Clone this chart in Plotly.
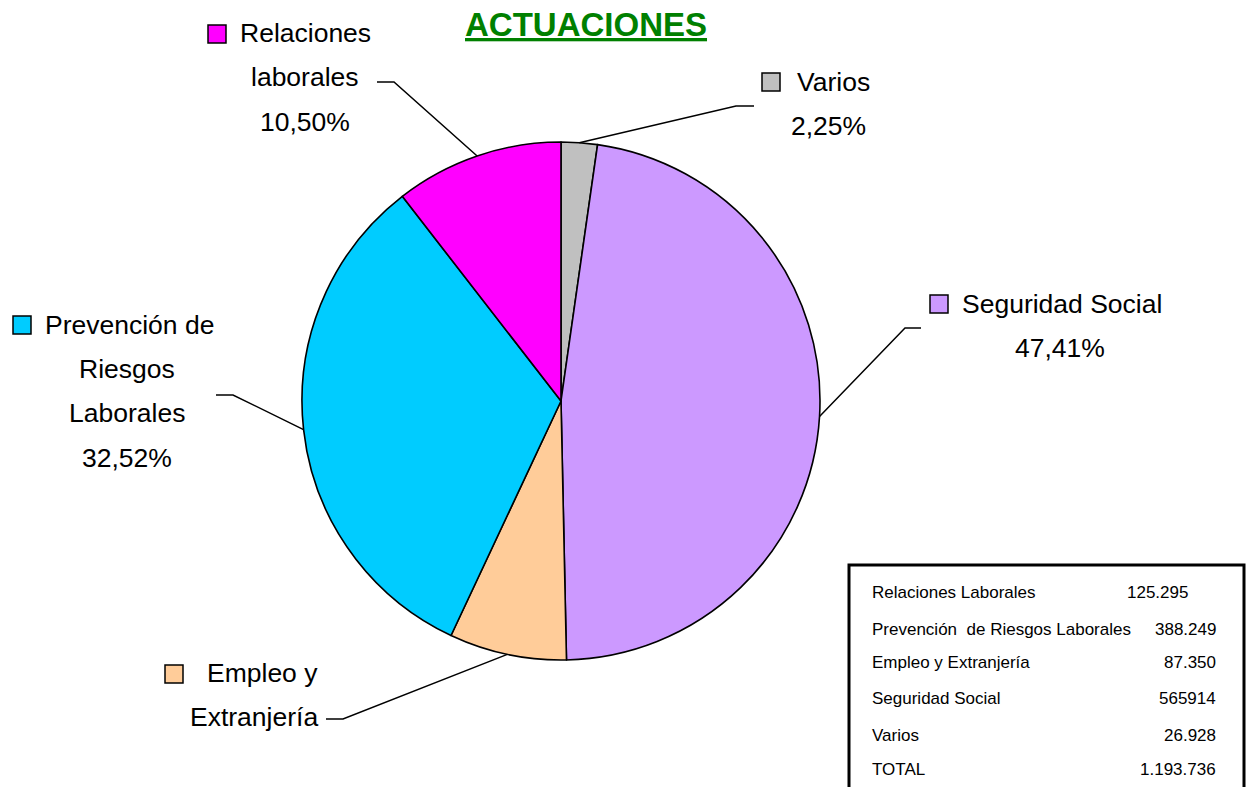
import math
import plotly.graph_objects as go

W, H = 1249, 787

title = "ACTUACIONES"
categories = ["Varios", "Seguridad Social", "Empleo y Extranjería",
              "Prevención de Riesgos Laborales", "Relaciones laborales"]
values = [26928, 565914, 87350, 388249, 125295]
colors = ["#C0C0C0", "#CC99FF", "#FFCC99", "#00CCFF", "#FF00FF"]
label_text = [
    ["Varios", "2,25%"],
    ["Seguridad Social", "47,41%"],
    ["Empleo y", "Extranjería"],
    ["Prevención de", "Riesgos", "Laborales", "32,52%"],
    ["Relaciones", "laborales", "10,50%"],
]
table_labels = ["Relaciones Laborales", "Prevención  de Riesgos Laborales",
                "Empleo y Extranjería", "Seguridad Social", "Varios", "TOTAL"]
table_values = ["125.295", "388.249", "87.350", "565914", "26.928", "1.193.736"]

# ---- layout geometry (pixels) ----
cx, cy, r = 561, 401, 259
FONT = "Arial, Liberation Sans, sans-serif"


def px(x):
    return x / W


def py(y):
    return 1 - y / H


# label placement: square box, text lines (x, y, anchor), leader elbow, leader end
label_layout = [
    dict(sq=(762, 73), lines=[(795, 82, "left"), (828, 126, "center")], elbow=(736, 106), end=(754, 106)),
    dict(sq=(930, 295), lines=[(960, 304, "left"), (1060, 348, "center")], elbow=(905, 328), end=(921, 328)),
    dict(sq=(165, 665), lines=[(205, 673, "left"), (320, 717, "right")], elbow=(343, 719), end=(326, 719)),
    dict(sq=(13, 316), lines=[(43, 325, "left"), (127, 369, "center"), (127, 413, "center"), (127, 458, "center")],
         elbow=(233, 395), end=(216, 395)),
    dict(sq=(208, 25), lines=[(238, 33, "left"), (305, 77, "center"), (305, 122, "center")],
         elbow=(394, 82), end=(377, 82)),
]

fig = go.Figure()
fig.add_trace(go.Pie(
    labels=categories, values=values, sort=False, direction="clockwise", rotation=0,
    marker=dict(colors=colors, line=dict(color="black", width=1.6)),
    textinfo="none", hoverinfo="label+value+percent", showlegend=False,
    domain=dict(x=[px(cx - r), px(cx + r)], y=[py(cy + r), py(cy - r)]),
))

shapes = []
annotations = []
total = sum(values)
cum = 0
for val, col, lines, lay in zip(values, colors, label_text, label_layout):
    mid = (cum + val / 2) / total * 2 * math.pi
    cum += val
    sx = cx + r * math.sin(mid)
    sy = cy - r * math.cos(mid)
    ex, ey = lay["elbow"]
    tx, ty = lay["end"]
    shapes.append(dict(type="path", xref="paper", yref="paper",
                       path=f"M {px(sx)},{py(sy)} L {px(ex)},{py(ey)} L {px(tx)},{py(ty)}",
                       line=dict(color="black", width=1.5)))
    qx, qy = lay["sq"]
    shapes.append(dict(type="rect", xref="paper", yref="paper",
                       x0=px(qx), x1=px(qx + 18), y0=py(qy), y1=py(qy + 18),
                       fillcolor=col, line=dict(color="black", width=1.5)))
    for txt, (lx, ly, anc) in zip(lines, lay["lines"]):
        annotations.append(dict(text=txt, x=px(lx), y=py(ly), xref="paper", yref="paper",
                                xanchor=anc, yanchor="middle", showarrow=False,
                                font=dict(family=FONT, size=26.5, color="black")))

# title
annotations.append(dict(text=f"<b><u>{title}</u></b>", x=px(586), y=py(24), xref="paper", yref="paper",
                        xanchor="center", yanchor="middle", showarrow=False,
                        font=dict(family=FONT, size=33, color="#008000")))

# data table box
shapes.append(dict(type="rect", xref="paper", yref="paper",
                   x0=px(849), x1=px(1244), y0=py(565), y1=py(795),
                   fillcolor="white", line=dict(color="black", width=3)))
row_y = [592, 629, 662, 698, 735, 769]
val_x = [1190, 1218, 1218, 1218, 1218, 1218]
for lab, v, yy, vx in zip(table_labels, table_values, row_y, val_x):
    annotations.append(dict(text=lab, x=px(870), y=py(yy), xref="paper", yref="paper",
                            xanchor="left", yanchor="middle", showarrow=False,
                            font=dict(family=FONT, size=17, color="black")))
    annotations.append(dict(text=v, x=px(vx), y=py(yy), xref="paper", yref="paper",
                            xanchor="right", yanchor="middle", showarrow=False,
                            font=dict(family=FONT, size=17, color="black")))

fig.update_layout(width=W, height=H, margin=dict(l=0, r=0, t=0, b=0),
                  paper_bgcolor="white", plot_bgcolor="white",
                  shapes=shapes, annotations=annotations)

fig.write_html("out.html", config={"displayModeBar": False},
               post_script="document.body.style.margin='0';document.body.style.overflow='hidden';")
